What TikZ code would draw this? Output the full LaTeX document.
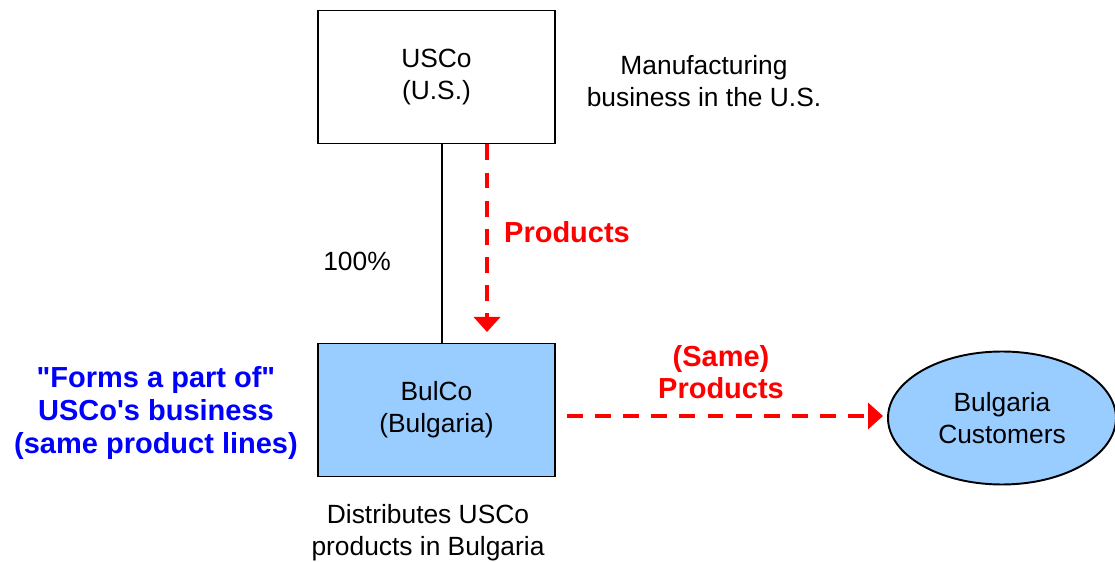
\documentclass[tikz,border=0pt]{standalone}
\usepackage{fontspec}
\setmainfont{Liberation Sans}[Ligatures=TeXOff]
\usetikzlibrary{shapes.geometric,arrows.meta}

\definecolor{boxblue}{RGB}{153,204,255}

\tikzset{
  entity/.style={draw,line width=1.1pt,minimum width=4.74cm,minimum height=2.66cm,align=center,font=\fontsize{15}{18.2}\selectfont},
  plain/.style={align=center,font=\fontsize{15}{18.2}\selectfont},
  flowlabel/.style={align=center,text=red,font=\fontsize{16.5}{18.5}\selectfont\bfseries},
  flow/.style={draw=red,line width=2.3pt,dash pattern=on 9pt off 7pt,-{Triangle[width=0.52cm,length=0.3cm]}}
}

\begin{document}
\begin{tikzpicture}
\useasboundingbox (0,0) rectangle (22.3,11.22);

%Entities

\node[entity] (usco) at (8.73,9.68) {USCo\\(U.S.)};
\node[entity,fill=boxblue] (bulco) at (8.73,3.02) {BulCo\\(Bulgaria)};
\node[ellipse,draw,line width=1.1pt,fill=boxblue,minimum width=4.56cm,minimum height=2.66cm,inner sep=0pt,align=center,font=\fontsize{15}{18.2}\selectfont] (cust) at (20.04,2.86) {Bulgaria\\Customers};

%Ownership

\coordinate (own) at (8.84,0);
\draw[line width=1.1pt] (usco.south -| own) -- (bulco.north -| own);
\node[plain] (pct) at (7.14,6.0) {100\%};

%Flows of products

\coordinate (down) at (9.74,0);
\coordinate (downend) at (9.74,4.58);
\path[flow] (usco.south -| down) -- (downend);
\node[flowlabel] (prod) at (11.34,6.58) {Products};

\coordinate (sale) at (11.34,2.9);
\coordinate (saleend) at (17.66,2.9);
\path[flow] (sale) -- (saleend);
\node[flowlabel] (sameprod) at (14.42,3.78) {(Same)\\Products};

%Notes

\node[plain] (mfg) at (14.08,9.6) {Manufacturing\\business in the U.S.};
\node[plain] (dist) at (8.56,0.56) {Distributes USCo\\products in Bulgaria};
\node[flowlabel,text=blue] (part) at (3.12,2.96) {"Forms a part of"\\USCo's business\\(same product lines)};

\end{tikzpicture}
\end{document}
